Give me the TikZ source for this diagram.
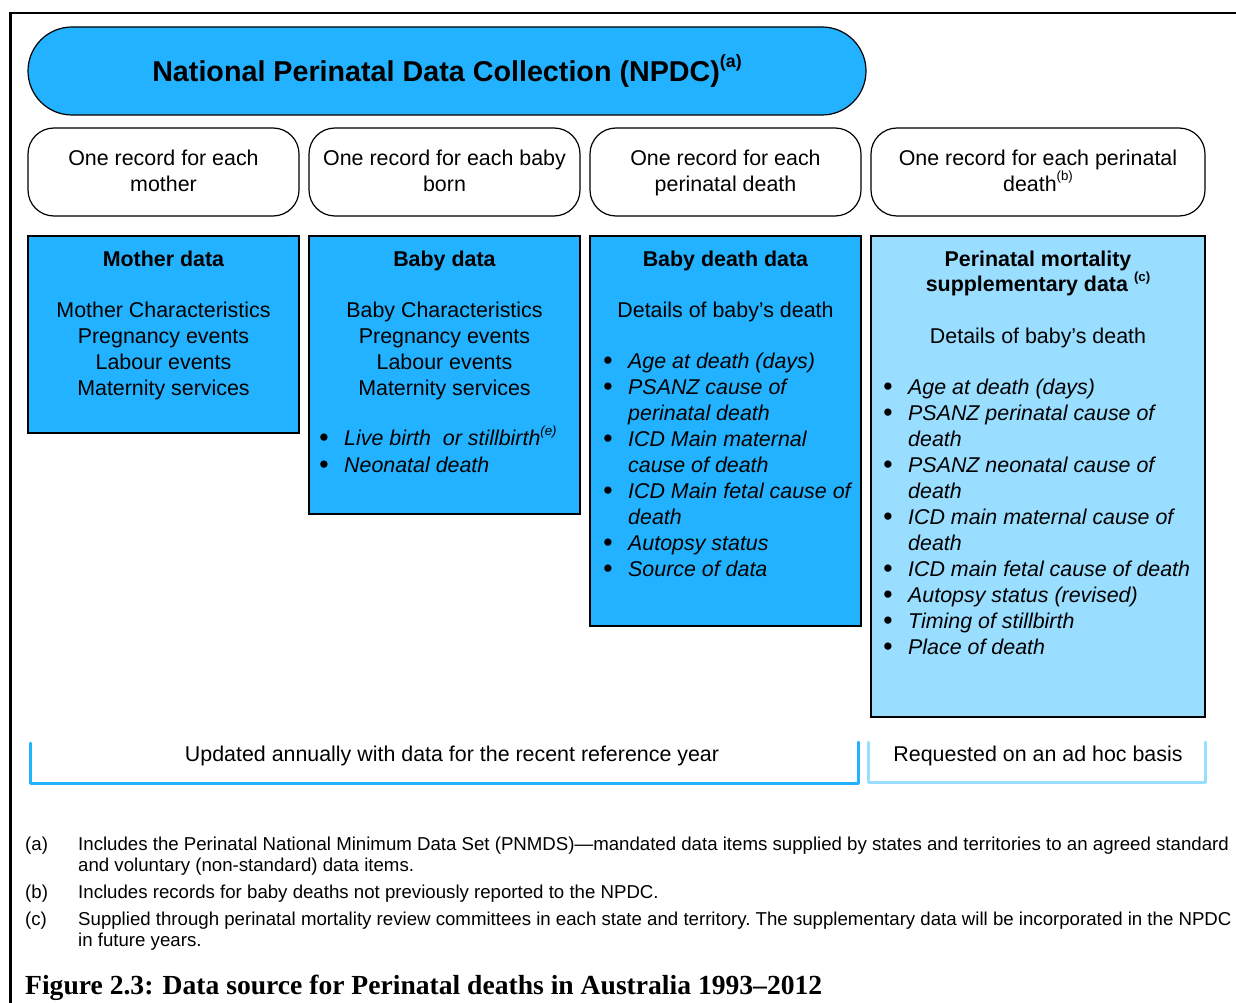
\documentclass[tikz,border=0pt]{standalone}
\usepackage{fontspec}
\usepackage{graphicx}
\setmainfont{Liberation Sans}
\newfontfamily\capfont{Liberation Serif}
\usetikzlibrary{shadows}

\definecolor{npdcblue}{RGB}{34,178,255}
\definecolor{suppblue}{RGB}{153,221,255}

\newcommand\boxfont{\fontsize{21.4}{26}\selectfont}
\newcommand\titlefont{\fontsize{28.7}{34}\selectfont\bfseries}
\newcommand\notefont{\fontsize{18.65}{21}\selectfont\frenchspacing}
\newcommand\titlemark[1]{\raisebox{0.5em}{\scalebox{0.62}{#1}}}
\newcommand\fnmark[1]{\smash{\titlemark{#1}}}
\newcommand\bul{\makebox[25pt][l]{\raisebox{-0.05em}{\scalebox{1.25}{\textbullet}}}}
\newcommand\cont{\hspace*{25pt}}
\newcommand\lowstrut{\rule[-5pt]{0pt}{5pt}}

\begin{document}
\begin{tikzpicture}[x=1pt,y=-1pt]

    \tikzset{
      pill/.style={
        draw,
        line width=1.2pt,
        fill=npdcblue,
        rounded corners=44pt,
        minimum width=838pt,
        minimum height=88pt,
        font=\titlefont,
      },
      record/.style={
        draw,
        line width=1.2pt,
        fill=white,
        rounded corners=26pt,
        minimum height=88pt,
        align=center,
        font=\boxfont,
      },
      databox/.style={
        draw,
        line width=1.2pt,
        fill=npdcblue,
        anchor=north west,
        inner sep=0pt,
        outer sep=0pt,
        drop shadow={shadow xshift=1.3pt, shadow yshift=-1.3pt, fill=black!50, opacity=1},
      },
      boxtext/.style={anchor=north, inner sep=0pt, align=center, font=\boxfont},
      bullets/.style={anchor=north west, inner sep=0pt, align=left, font=\boxfont\itshape},
      bracket/.style={line width=3pt, line cap=round, line join=round},
      note/.style={anchor=north west, inner sep=0pt, align=left, font=\notefont},
    }
    \useasboundingbox (0,0) rectangle (1236,1003);

    % frame
    \draw[line width=2.6pt] (10.7,1010) -- (10.7,13) -- (1240,13);

    \node[pill] (npdc) at (447,71) {National Perinatal Data Collection (NPDC)\titlemark{(a)}};

    \node[record, minimum width=271pt] (recmother) at (163.5,172) {\strut One record for each\\ mother\lowstrut};
    \node[record, minimum width=271pt] (recbaby) at (444.5,172) {\strut One record for each baby\\ born\lowstrut};
    \node[record, minimum width=271pt] (recdeath) at (725.5,172) {\strut One record for each\\ perinatal death\lowstrut};
    \node[record, minimum width=334pt] (recperi) at (1038,172) {\strut One record for each perinatal\\ death\fnmark{(b)}\lowstrut};

    \node[databox, minimum width=271pt, minimum height=197pt] (motherdata) at (28,236) {};
    \node[databox, minimum width=271pt, minimum height=278pt] (babydata) at (309,236) {};
    \node[databox, minimum width=271pt, minimum height=390pt] (deathdata) at (590,236) {};
    \node[databox, fill=suppblue, minimum width=334pt, minimum height=481pt] (suppdata) at (871,236) {};

    \node[boxtext] (mothertext) at (163.5,248.3) {\strut\textbf{Mother data}\\[25pt] Mother Characteristics\\ Pregnancy events\\ Labour events\\ Maternity services};

    \node[boxtext] (babytext) at (444.5,248.3) {\strut\textbf{Baby data}\\[25pt] Baby Characteristics\\ Pregnancy events\\ Labour events\\ Maternity services};
    \node[bullets] (babyitems) at (319,427.5) {\strut\bul Live birth\ \ or stillbirth\fnmark{(e)}\\[1pt] \bul Neonatal death};

    \node[boxtext] (deathtext) at (725.5,248.3) {\strut\textbf{Baby death data}\\[25pt] Details of baby’s death};
    \node[bullets] (deathitems) at (603,350.3) {\strut\bul Age at death (days)\\ \bul PSANZ cause of\\ \cont perinatal death\\ \bul ICD Main maternal\\ \cont cause of death\\ \bul ICD Main fetal cause of\\ \cont death\\ \bul Autopsy status\\ \bul Source of data};

    \node[boxtext] (supptext) at (1038,248.3) {\strut\textbf{Perinatal mortality}\\[-1pt] \textbf{supplementary data}~\fnmark{\textbf{(c)}}\\[26pt] Details of baby’s death};
    \node[bullets] (suppitems) at (883,376.3) {\strut\bul Age at death (days)\\ \bul PSANZ perinatal cause of\\ \cont death\\ \bul PSANZ neonatal cause of\\ \cont death\\ \bul ICD main maternal cause of\\ \cont death\\ \bul ICD main fetal cause of death\\ \bul Autopsy status (revised)\\ \bul Timing of stillbirth\\ \bul Place of death};

    % brackets under the boxes
    \draw[bracket, npdcblue] (30.7,743) -- (30.7,783.5) -- (858.7,783.5) -- (858.7,742);
    \draw[bracket, suppblue] (868.7,742) -- (868.7,782) -- (1205.5,782) -- (1205.5,742);
    \node[anchor=base, font=\boxfont] (annual) at (452,761.5) {Updated annually with data for the recent reference year};
    \node[anchor=base, font=\boxfont] (adhoc) at (1038,761.5) {Requested on an ad hoc basis};

    \node[note] (notea) at (25,835.8) {\strut(a)};
    \node[note] (noteatext) at (78,835.8) {\strut Includes the Perinatal National Minimum Data Set (PNMDS)—mandated data items supplied by states and territories to an agreed standard\\ and voluntary (non-standard) data items.};
    \node[note] (noteb) at (25,883.8) {\strut(b)};
    \node[note] (notebtext) at (78,883.8) {\strut Includes records for baby deaths not previously reported to the NPDC.};
    \node[note] (notec) at (25,910.8) {\strut(c)};
    \node[note] (notectext) at (78,910.8) {\strut Supplied through perinatal mortality review committees in each state and territory. The supplementary data will be incorporated in the NPDC\\ in future years.};

    \node[anchor=base west, inner sep=0pt, font=\capfont\fontsize{27.6}{32}\selectfont\bfseries] (caption) at (25,994) {Figure 2.3: Data source for Perinatal deaths in Australia 1993–2012};

\end{tikzpicture}
\end{document}
